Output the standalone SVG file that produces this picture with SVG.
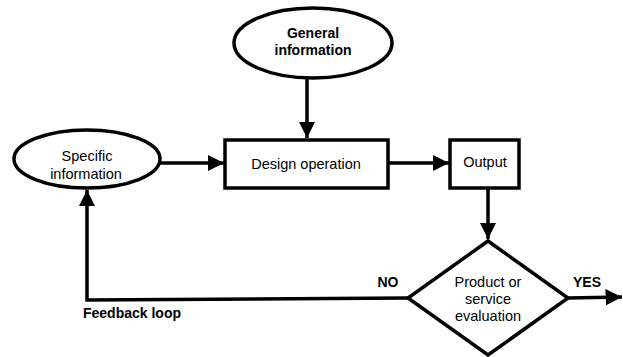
<svg xmlns="http://www.w3.org/2000/svg" width="623" height="357" viewBox="0 0 623 357">
  <style>
    .shape { fill: #ffffff; stroke: #000000; stroke-width: 3.5; }
    .edge { fill: none; stroke: #000000; stroke-width: 3.5; }
    .label { font-family: "Liberation Sans", Arial, sans-serif; font-size: 14.5px; fill: #000000; text-anchor: middle; }
    .bold { font-weight: bold; font-size: 14px; }
  </style>
  <defs>
    <marker id="arrow" viewBox="0 0 10 10" refX="10" refY="5" markerWidth="4.7" markerHeight="4.7" orient="auto" markerUnits="strokeWidth">
      <path d="M0,0 L10,5 L0,10 Z" fill="#000000"/>
    </marker>
  </defs>
  <rect width="623" height="357" fill="#ffffff"/>

  <g id="connectors">
    <line class="edge" x1="307" y1="79" x2="307" y2="138" marker-end="url(#arrow)"/>
    <line class="edge" x1="160" y1="163" x2="224" y2="163" marker-end="url(#arrow)"/>
    <line class="edge" x1="388" y1="163" x2="449" y2="163" marker-end="url(#arrow)"/>
    <line class="edge" x1="488" y1="188" x2="488" y2="239" marker-end="url(#arrow)"/>
    <line class="edge" x1="568" y1="298" x2="622" y2="297" marker-end="url(#arrow)"/>
    <polyline class="edge" points="408,298 87,300 87,190" marker-end="url(#arrow)"/>
  </g>

  <g id="general-information">
    <ellipse class="shape" cx="313" cy="43" rx="79" ry="35"/>
    <text class="label bold" x="313" y="38">General</text>
    <text class="label bold" x="313" y="55">information</text>
  </g>

  <g id="specific-information">
    <ellipse class="shape" cx="87" cy="159" rx="73" ry="29"/>
    <text class="label" x="87" y="161">Specific</text>
    <text class="label" x="86" y="179">information</text>
  </g>

  <g id="design-operation">
    <rect class="shape" x="225" y="140" width="163" height="48"/>
    <text class="label" x="306" y="169">Design operation</text>
  </g>

  <g id="output">
    <rect class="shape" x="450" y="140" width="69" height="48"/>
    <text class="label" x="485" y="167">Output</text>
  </g>

  <g id="evaluation">
    <polygon class="shape" points="488,241 568,298 488,355 408,298"/>
    <text class="label" x="488" y="287">Product or</text>
    <text class="label" x="488" y="304">service</text>
    <text class="label" x="488" y="321">evaluation</text>
  </g>

  <g id="labels">
    <text class="label bold" x="388" y="287">NO</text>
    <text class="label bold" x="587" y="287">YES</text>
    <text class="label bold" x="132" y="318">Feedback loop</text>
  </g>
</svg>
